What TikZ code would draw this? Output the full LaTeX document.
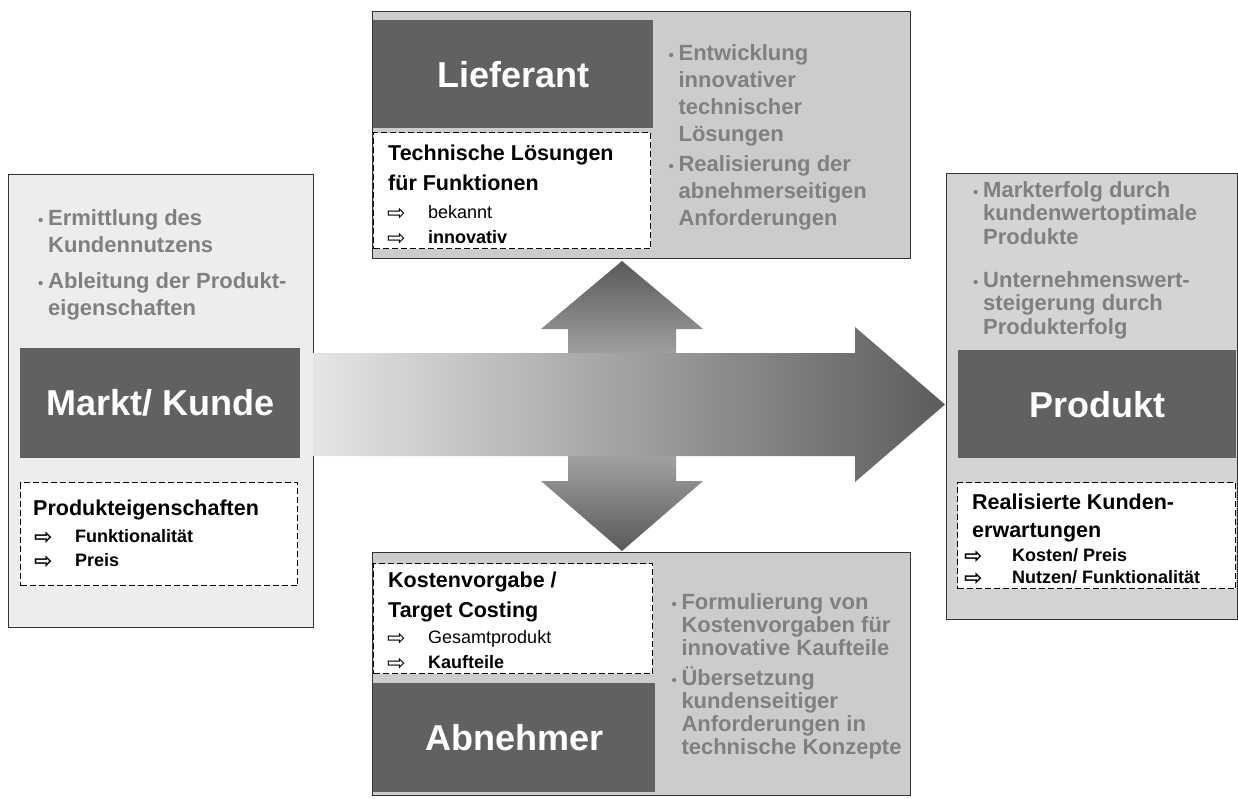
\documentclass[tikz,border=0pt]{standalone}
\usepackage{fontspec}
\setmainfont{Liberation Sans}
\newfontfamily\symfont{DejaVu Sans}
\usetikzlibrary{positioning}

% bullet, hanging indent and hollow arrow item
\newcommand{\bul}{\makebox[10pt][l]{\fontsize{15}{15}\selectfont\textbullet}}
\newcommand{\ind}{\hspace*{10pt}}
\newcommand{\itm}[2][41pt]{\makebox[#1][l]{\smash{\raisebox{-2pt}{\symfont\fontsize{22}{22}\selectfont ⇨}}}#2}

\begin{document}
\begin{tikzpicture}[x=1pt, y=-1pt,
	% Define the styles for panels, boxes and texts
	panel/.style={draw=black!80, line width=0.8pt, anchor=north west, inner sep=0pt},
	namebox/.style={fill=black!62, anchor=north west, inner sep=0pt, text=white,
		font=\bfseries\fontsize{36}{40}\selectfont},
	dashbox/.style={draw=black, fill=white, line width=1.3pt, dash pattern=on 6pt off 3pt,
		anchor=north west, inner sep=0pt},
	bullets/.style={anchor=north west, inner sep=0pt, align=left, text=black!50,
		font=\bfseries\fontsize{22}{27}\selectfont},
	boxhead/.style={anchor=north west, inner sep=0pt, align=left,
		font=\bfseries\fontsize{21.5}{30}\selectfont},
	boxitems/.style={anchor=north west, inner sep=0pt, align=left,
		font=\fontsize{18}{25}\selectfont}
	]
	
	\useasboundingbox (0,0) rectangle (1238,799);
	
	% --- PANELS ---
	\node (kundePanel) at (8,174) [panel, fill=black!7, minimum width=305pt, minimum height=453pt] {};
	\node (lieferantPanel) at (372,11) [panel, fill=black!20, minimum width=538pt, minimum height=247pt] {};
	\node (abnehmerPanel) at (372,552) [panel, fill=black!20, minimum width=538pt, minimum height=243pt] {};
	\node (produktPanel) at (946,173) [panel, fill=black!17, minimum width=291pt, minimum height=446pt] {};
	
	% --- ARROWS ---
	% vertical double arrow between Lieferant and Abnehmer
	\shade[top color=black!65, bottom color=black!65, middle color=black!22]
		(622,261) -- (703,329) -- (676,329) -- (676,481) -- (703,481) -- (622,551)
		-- (541,481) -- (568,481) -- (568,329) -- (541,329) -- cycle;
	% main arrow from Markt/ Kunde to Produkt
	\shade[left color=black!10, right color=black!64]
		(313,353) -- (855,353) -- (855,327) -- (945,404.5) -- (855,482) -- (855,456)
		-- (313,456) -- cycle;
	
	% --- MARKT/ KUNDE ---
	\node (kundeBox) at (20,348) [namebox, minimum width=280pt, minimum height=110pt] {Markt/ Kunde};
	\node (kundeText) [bullets, below right=35pt and 30pt of kundePanel.north west]
		{\bul Ermittlung des\\ \ind Kundennutzens\\[9pt] \bul Ableitung der Produkt-\\ \ind eigenschaften};
	\node (kundeDash) at (20,482) [dashbox, minimum width=277pt, minimum height=103pt] {};
	\node (kundeHead) [boxhead, below right=18pt and 13pt of kundeDash.north west] {Produkteigenschaften};
	\node (kundeItems) [boxitems, font=\bfseries\fontsize{18}{24}\selectfont,
		below right=47.5pt and 14pt of kundeDash.north west]
		{\itm{Funktionalität}\\ \itm{Preis}};
	
	% --- LIEFERANT ---
	\node (lieferantBox) at (373,20) [namebox, minimum width=280pt, minimum height=108pt] {Lieferant};
	\node (lieferantText) [bullets, below right=24pt and 15pt of lieferantBox.north east]
		{\bul Entwicklung\\ \ind innovativer\\ \ind technischer\\ \ind Lösungen\\[3pt]
		\bul Realisierung der\\ \ind abnehmerseitigen\\ \ind Anforderungen};
	\node (lieferantDash) at (373,132) [dashbox, minimum width=277pt, minimum height=116pt] {};
	\node (lieferantHead) [boxhead, below right=13pt and 15pt of lieferantDash.north west]
		{Technische Lösungen\\ für Funktionen};
	\node (lieferantItems) [boxitems, below right=73.5pt and 14pt of lieferantDash.north west]
		{\itm{bekannt}\\ \itm{\bfseries innovativ}};
	
	% --- ABNEHMER ---
	\node (abnehmerDash) at (373,563) [dashbox, minimum width=279pt, minimum height=110pt] {};
	\node (abnehmerHead) [boxhead, below right=9pt and 15pt of abnehmerDash.north west]
		{Kostenvorgabe /\\ Target Costing};
	\node (abnehmerItems) [boxitems, below right=67.5pt and 14pt of abnehmerDash.north west]
		{\itm{Gesamtprodukt}\\ \itm{\bfseries Kaufteile}};
	\node (abnehmerBox) at (373,683) [namebox, minimum width=282pt, minimum height=109pt] {Abnehmer};
	\node (abnehmerText) [bullets, font=\bfseries\fontsize{22}{23}\selectfont,
		below right=30pt and 18pt of abnehmerDash.north east]
		{\bul Formulierung von\\ \ind Kostenvorgaben für\\ \ind innovative Kaufteile\\[7pt]
		\bul Übersetzung\\ \ind kundenseitiger\\ \ind Anforderungen in\\ \ind technische Konzepte};
	
	% --- PRODUKT ---
	\node (produktText) [bullets, font=\bfseries\fontsize{22}{23.5}\selectfont,
		below right=8pt and 27pt of produktPanel.north west]
		{\bul Markterfolg durch\\ \ind kundenwertoptimale\\ \ind Produkte\\[19.5pt]
		\bul Unternehmenswert-\\ \ind steigerung durch\\ \ind Produkterfolg};
	\node (produktBox) at (958,350) [namebox, minimum width=278pt, minimum height=108pt] {Produkt};
	\node (produktDash) at (957,482) [dashbox, minimum width=278pt, minimum height=106pt] {};
	\node (produktHead) [boxhead, font=\bfseries\fontsize{21.5}{28}\selectfont,
		below right=12pt and 15pt of produktDash.north west]
		{Realisierte Kunden-\\ erwartungen};
	\node (produktItems) [boxitems, font=\bfseries\fontsize{18}{22}\selectfont,
		below right=66.5pt and 7pt of produktDash.north west]
		{\itm[48pt]{Kosten/ Preis}\\ \itm[48pt]{Nutzen/ Funktionalität}};
	
\end{tikzpicture}
\end{document}
